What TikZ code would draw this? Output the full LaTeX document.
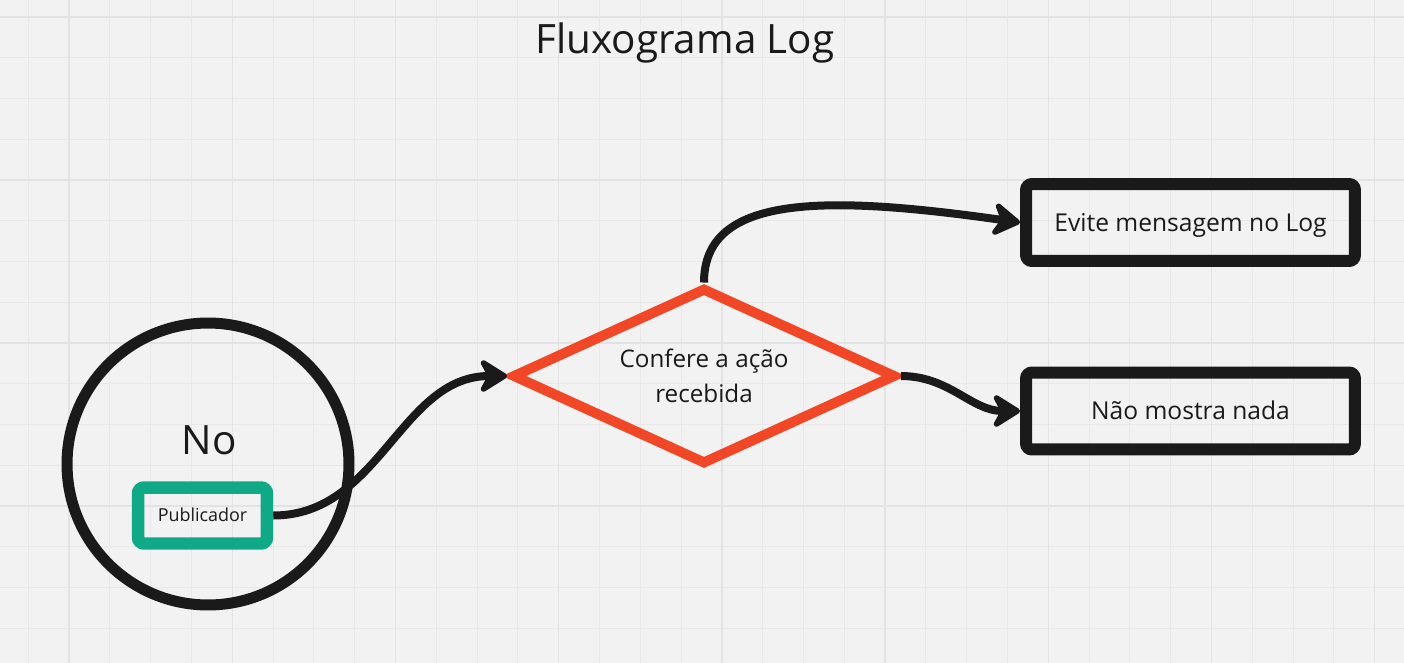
\documentclass[tikz,border=0pt]{standalone}
\usepackage{fontspec}
\setmainfont{Open Sans}
\usetikzlibrary{shapes.geometric}
\usetikzlibrary{arrows.meta}
\definecolor{canvas}{HTML}{F2F2F2}
\definecolor{gridline}{HTML}{E8E8E8}
\definecolor{gridmajor}{HTML}{E3E3E3}
\definecolor{ink}{HTML}{1A1A1A}
\definecolor{alert}{HTML}{F24726}
\definecolor{pubgreen}{HTML}{0FA987}

\begin{document}
\begin{tikzpicture}[x=0.02cm, y=-0.02cm,
    flowbox/.style={draw=ink, line width=0.24cm, rounded corners=0.12cm,
      minimum width=6.58cm, minimum height=1.54cm, text height=10pt,
      text depth=0pt, text=ink, font=\fontsize{14}{17}\selectfont},
    flowline/.style={draw=ink, line width=0.16cm,
      -{Stealth[length=0.66cm, width=0.82cm, inset=0.22cm, round]}}]
   \fill[canvas] (0,0) rectangle (1404,663);
   \useasboundingbox (0,0) rectangle (1404,663);
   % grid
   \foreach \k in {0,...,33}
     \draw[gridline, line width=0.02cm] (28.3+40.8*\k,0) -- (28.3+40.8*\k,663);
   \foreach \k in {0,...,15}
     \draw[gridline, line width=0.02cm] (0,17+40.75*\k) -- (1404,17+40.75*\k);
   \foreach \k in {1,5,...,33}
     \draw[gridmajor, line width=0.03cm] (28.3+40.8*\k,0) -- (28.3+40.8*\k,663);
   \foreach \k in {0,4,...,15}
     \draw[gridmajor, line width=0.03cm] (0,17+40.75*\k) -- (1404,17+40.75*\k);

   \node[anchor=base, text=ink, font=\fontsize{23}{28}\selectfont] (title) at (685,53) {Fluxograma Log};

   \node[draw=ink, circle, line width=0.22cm, minimum size=5.64cm] (node) at (208,464) {};
   \node[anchor=base, text=ink, font=\fontsize{23}{28}\selectfont] (nodename) at (209,454) {No};
   \node[draw=pubgreen, line width=0.25cm, rounded corners=0.12cm, minimum width=2.58cm,
         minimum height=1.12cm, text height=7.3pt, text depth=0pt, text=ink,
         font=\fontsize{10.2}{12}\selectfont] (pub) at (202.5,515.5) {Publicador};

   \node[draw=alert, diamond, aspect=2.1, line width=0.2cm, minimum width=7.68cm,
         minimum height=3.54cm, inner sep=0pt, align=center, text=ink,
         font=\fontsize{13.8}{19.7}\selectfont] (check) at (704,376) {Confere a ação\\recebida};

   \node[flowbox] (skip) at (1190.5,222.5) {Evite mensagem no Log};
   \node[flowbox] (none) at (1190.5,411) {Não mostra nada};

   \draw[flowline] (pub.east) to[out=0, in=180] (check.west);
   \draw[flowline] (check.north) .. controls +(0,-88) and +(-197,-28) .. (skip.west);
   \draw[flowline] (check.east) to[out=0, in=180] (none.west);
\end{tikzpicture}
\end{document}
